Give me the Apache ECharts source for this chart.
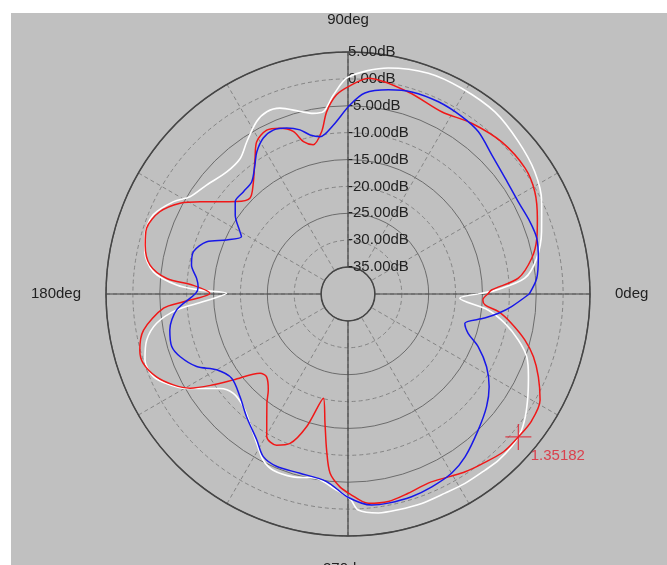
<!DOCTYPE html>
<html><head><meta charset="utf-8">
<script src="https://cdn.jsdelivr.net/npm/echarts@6.0.0/dist/echarts.min.js"></script>
<style>
html,body{margin:0;padding:0;background:#ffffff;width:667px;height:565px;overflow:hidden}
#chart{position:absolute;left:11px;top:13px;width:656px;height:552px;}
</style>
</head><body><div id="chart"></div>
<script>
// ---- data (angle in degrees, level in dB) ----
const whiteAngles = [0,1.5,5.1,10.7,17.8,25.5,33.2,41.8,51.1,61.1,70,79.9,90,94.2,97.7,100.9,104.7,110.1,114,117.9,123.6,128.5,134.8,142.4,148.4,152.1,157.9,163.8,168.2,173.5,177,178.5,179.7,183,185.3,188.7,192.9,198,203,207,210.3,216.4,220.9,227.1,232.8,238.5,243,247,253.3,260.4,266,270.6,272.7,277.9,283.1,289.4,296,301.7,307.9,312.2,317,321,325.3,330.3,335.4,340.7,344.9,349.4,353.5,357.8,360];
const whiteDb = [-15.8,-12.5,-7.0,-4.3,-2.2,-0.1,1.5,2.5,3.5,3.7,3.7,2.7,0.3,-2.9,-5.8,-5.8,-4.9,-3.2,-2.9,-3.7,-6.0,-7.8,-8.0,-6.8,-5.5,-3.3,-0.9,-0.7,-1.4,-3.6,-8.1,-12.5,-17.4,-13.1,-8.0,-4.0,-1.6,-0.3,-0.7,-2.8,-5.2,-10.4,-11.8,-11.4,-9.8,-7.5,-5.3,-4.4,-4.5,-5.2,-3.7,-1.9,0.2,1.1,1.2,1.3,1.2,1.4,1.5,1.7,1.6,1.2,0.1,-1.5,-3.1,-4.8,-7.2,-10.3,-13.8,-19.2,-15.8];

const redAngles = [0,1.6,5.3,11,16.4,21.7,28.7,35.4,44.7,54.1,62.8,73.4,84.6,89.5,93.3,96.7,99.2,103.1,106.3,108.6,112.3,116.4,121,124.4,131,135.7,140.3,144.9,148,151.6,156.4,161.9,166.4,171.7,175.1,176.8,179.7,182.7,184.4,190,195.1,198.7,203.4,207.5,210.8,214,216.9,222,225.5,230.3,233.4,240.3,244.7,248.8,252.7,256.7,259.9,262.2,264.3,267.6,270.6,275.5,281,286.8,293,298.8,303.4,308,314.6,320,325.3,331.1,336.5,341.3,345.4,349.8,353.3,355.4,357.5,360];
const redDb = [-14.0,-13.3,-8.2,-5.2,-3.4,-2.1,-0.4,0.4,0.2,-0.8,-1.9,-0.8,0.3,-1.3,-2.9,-5.9,-9.4,-11.5,-10.5,-8.1,-6.7,-6.0,-7.0,-9.4,-13.1,-14.5,-13.1,-10.2,-7.6,-4.5,-1.8,-0.6,-1.2,-2.8,-6.2,-11.2,-14.3,-9.4,-5.6,-1.4,0.1,0.2,-1.2,-3.4,-5.8,-9.8,-13.4,-18.0,-18.4,-16.8,-14.7,-9.5,-8.9,-10.2,-14.2,-20.1,-15.6,-10.7,-6.5,-4.1,-2.8,-0.9,-0.7,-1.3,-1.8,-1.2,-0.4,0.2,1.2,1.35,1.5,0.8,-1.4,-3.6,-6.0,-9.1,-11.8,-14.4,-14.9,-14.0];

const blueAngles = [0,4.7,10.6,16.4,21.7,28.5,36.4,44,51.2,57.3,64.8,72.5,78.8,85.2,89.5,95,100.1,103.4,106.3,110.3,114.5,118.5,122.7,125.8,130.6,135.6,140.7,145,150,151.7,156,159.7,164.7,169.5,174.1,177.2,179.7,185.3,191.4,196.6,200.5,205.6,210,216,223.5,230.4,238,242.5,247.6,255,263.5,270,276.4,280.9,287.4,293.5,300,305.7,313.8,320.9,326.7,332.3,338,341.9,345.9,350,352.7,355.6,360];
const blueDb = [-6.3,-4.8,-4.0,-3.4,-3.6,-4.0,-3.7,-2.8,-1.3,-0.8,-0.5,-0.6,-1.3,-2.5,-4.9,-8.5,-10.3,-9.6,-8.2,-7.1,-6.5,-7.0,-8.6,-10.4,-12.5,-12.8,-12.9,-14.4,-16.8,-17.5,-15.3,-12.0,-10.2,-10.4,-11.7,-12.1,-11.7,-8.0,-6.2,-5.8,-6.7,-8.8,-11.8,-13.3,-12.3,-10.4,-8.0,-5.9,-5.3,-5.5,-4.9,-2.2,-0.5,-0.4,-0.5,-0.9,-1.5,-2.7,-5.0,-6.8,-8.6,-10.9,-13.9,-16.5,-17.6,-14.2,-11.8,-9.5,-6.3];

const markerAngle = 320;
const markerDb = 1.35182;

const radiusMin = -40, radiusMax = 5, innerMin = -35;

// ---- layout ----
const CX = 337, CY = 281, R = 242;
const R0 = R * (innerMin - radiusMin) / (radiusMax - radiusMin);
const dashGray = '#858585', solidGray = '#6c6c6c', dark = '#454545';
const font = 'Liberation Sans, Arial, sans-serif';

const toPairs = (angs, vals) => angs.map((a, i) => [vals[i], a]);

const chart = echarts.init(document.getElementById('chart'));
chart.setOption({
  animation: false,
  backgroundColor: '#c0c0c0',
  polar: [
    {center: [CX, CY], radius: R},
    {center: [CX, CY], radius: [R0, R]},
    {center: [CX, CY], radius: [R0, R]}
  ],
  angleAxis: [
    {polarIndex: 0, type: 'value', min: 0, max: 360, startAngle: 0, clockwise: false,
     axisLine: {show: false}, axisTick: {show: false}, axisLabel: {show: false}, splitLine: {show: false}},
    {polarIndex: 1, type: 'value', min: 0, max: 360, interval: 90, startAngle: 0, clockwise: false, z: 3,
     axisLine: {show: true, lineStyle: {color: dark, width: 1.5}},
     axisTick: {show: false},
     axisLabel: {show: true, margin: 25, color: '#222', fontSize: 15, fontFamily: font,
       formatter: v => (v >= 360 ? '' : v + 'deg')},
     splitLine: {show: true, lineStyle: {color: dark, width: 1.2, type: 'solid'}}},
    {polarIndex: 2, type: 'value', min: 0, max: 360, interval: 30, startAngle: 90, clockwise: false, z: 1,
     axisLine: {show: false}, axisTick: {show: false}, axisLabel: {show: false},
     splitLine: {show: true, lineStyle: {color: dashGray, width: 1, type: [4, 3]}}}
  ],
  radiusAxis: [
    {polarIndex: 0, type: 'value', min: radiusMin, max: radiusMax, interval: 10,
     axisLine: {show: false}, axisTick: {show: false}, axisLabel: {show: false},
     splitLine: {show: true, lineStyle: {color: dashGray, width: 1, type: [4, 3]}}},
    {polarIndex: 1, type: 'value', min: innerMin, max: radiusMax, interval: 10, z: 2,
     axisLine: {show: false}, axisTick: {show: false}, axisLabel: {show: false},
     splitLine: {show: true, lineStyle: {color: solidGray, width: 1, type: 'solid'}}},
    {polarIndex: 2, type: 'value', min: innerMin, max: radiusMax, interval: 5, z: 4,
     axisLine: {show: false}, axisTick: {show: false},
     axisLabel: {show: true, align: 'left', margin: 0, color: '#222', fontSize: 15, fontFamily: font,
       showMinLabel: true, showMaxLabel: true,
       formatter: v => v.toFixed(2) + 'dB'},
     splitLine: {show: false}}
  ],
  series: [
    {type: 'line', coordinateSystem: 'polar', polarIndex: 0, data: toPairs(whiteAngles, whiteDb),
     showSymbol: false, symbol: 'none', smooth: 0.3, z: 10, silent: true,
     lineStyle: {color: '#ffffff', width: 1.6}},
    {type: 'line', coordinateSystem: 'polar', polarIndex: 0, data: toPairs(redAngles, redDb),
     showSymbol: false, symbol: 'none', smooth: 0.3, z: 11, silent: true,
     lineStyle: {color: '#f01818', width: 1.5}},
    {type: 'line', coordinateSystem: 'polar', polarIndex: 0, data: toPairs(blueAngles, blueDb),
     showSymbol: false, symbol: 'none', smooth: 0.3, z: 12, silent: true,
     lineStyle: {color: '#1818e8', width: 1.5}},
    {type: 'scatter', coordinateSystem: 'polar', polarIndex: 0, data: [[markerDb, markerAngle]],
     symbol: 'path://M0,10L20,10M10,0L10,20', symbolSize: 26, z: 13, silent: true,
     itemStyle: {color: 'rgba(0,0,0,0)', borderColor: '#e02030', borderWidth: 1.3},
     label: {show: true, position: [26, 33], align: 'left', verticalAlign: 'middle',
       formatter: String(markerDb), color: '#e02030', fontSize: 15, fontFamily: font}}
  ]
});
</script>
</body></html>
